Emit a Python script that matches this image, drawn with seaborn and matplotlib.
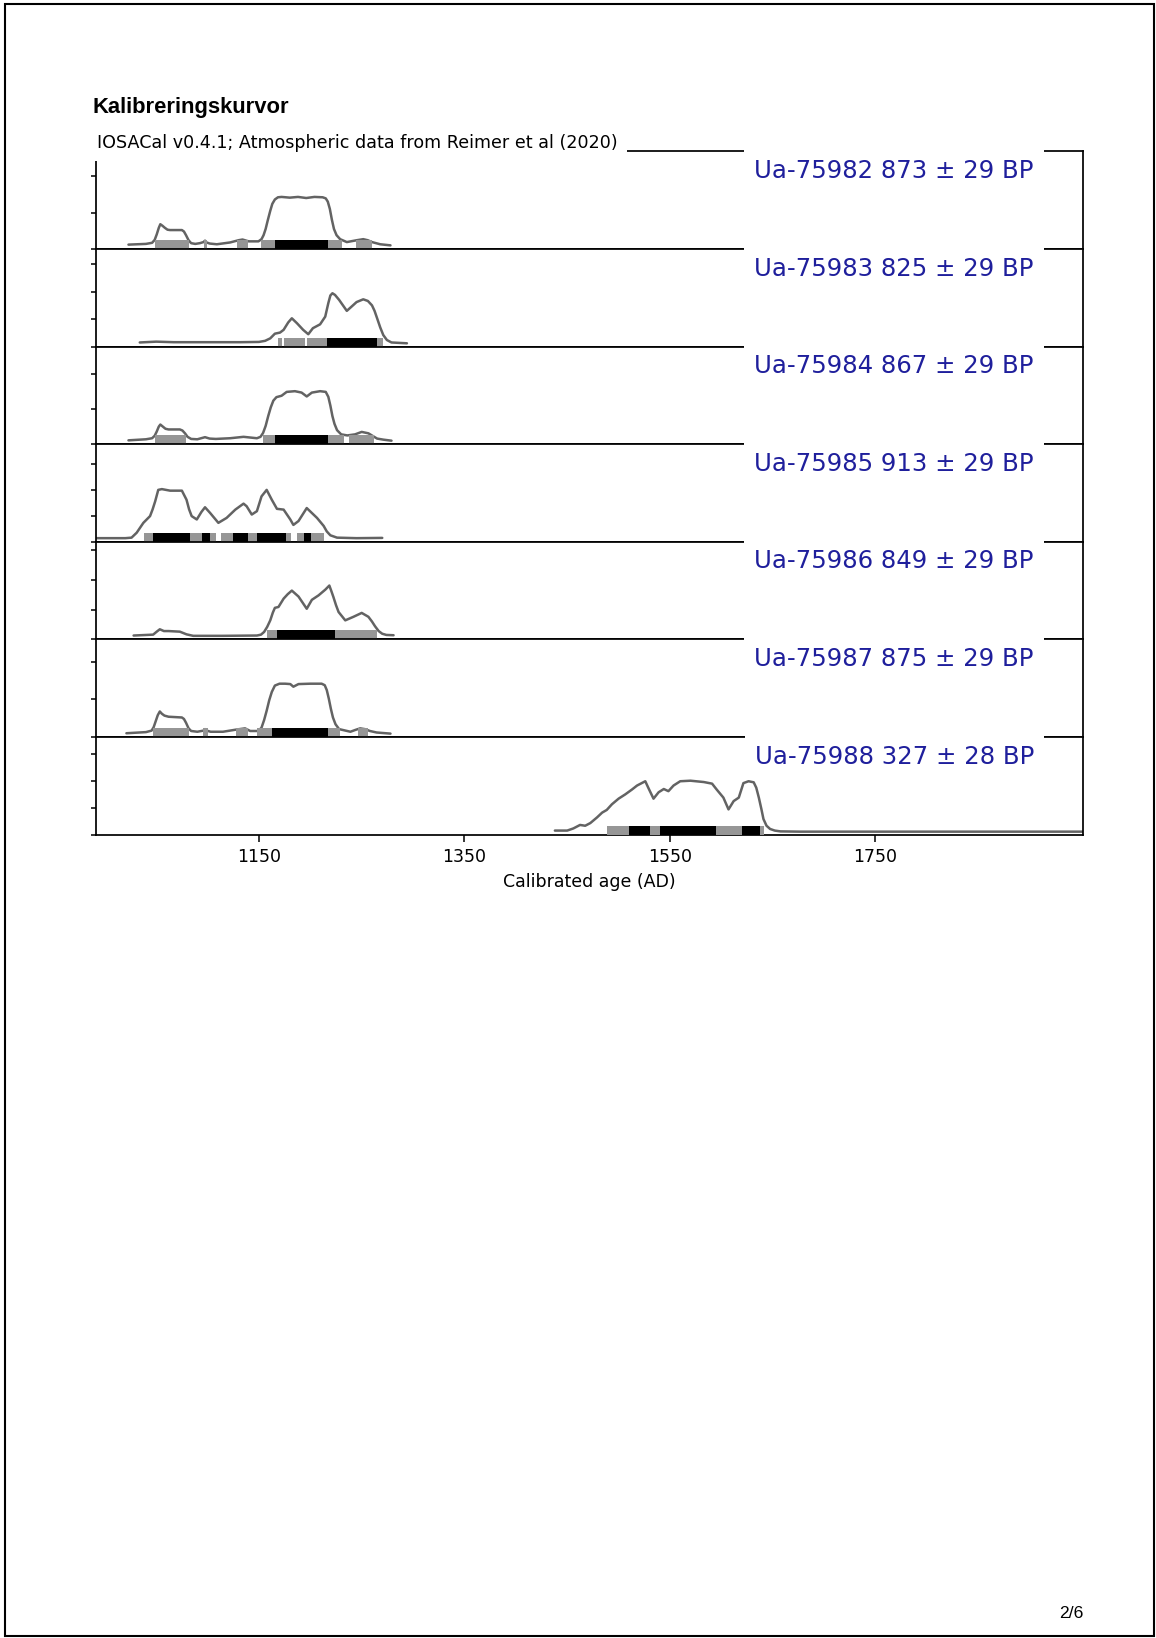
import matplotlib
matplotlib.use("Agg")
import matplotlib.pyplot as plt
from matplotlib.patches import Rectangle
import seaborn as sns

# ---------------- data ----------------
page_title = "Kalibreringskurvor"
page_number = "2/6"
software_note = "IOSACal v0.4.1; Atmospheric data from Reimer et al (2020)"
x_label = "Calibrated age (AD)"
x_ticks = [1150, 1350, 1550, 1750]
x_range = (991.4, 1952)

sample_labels = [
    "Ua-75982 873 ± 29 BP",
    "Ua-75983 825 ± 29 BP",
    "Ua-75984 867 ± 29 BP",
    "Ua-75985 913 ± 29 BP",
    "Ua-75986 849 ± 29 BP",
    "Ua-75987 875 ± 29 BP",
    "Ua-75988 327 ± 28 BP",
]

# calendar years (AD) and probability (percent per year) of each calibrated date
years_1 = [1023, 1040, 1046, 1048.5, 1050.5, 1052.5, 1054, 1056, 1058.5, 1061,
           1063.5, 1070, 1075, 1077, 1079, 1081.5, 1084, 1088, 1092.5, 1096,
           1097.5, 1099, 1102, 1109, 1122, 1130, 1134, 1140, 1149.5, 1152.5,
           1154.5, 1156.5, 1158.5, 1161, 1163, 1165.5, 1168.5, 1172, 1180, 1188,
           1196, 1204, 1212, 1215, 1217, 1219, 1221, 1223, 1225.5, 1229,
           1235.5, 1245, 1251.5, 1256, 1260, 1268, 1278]
prob_1 = [0.12, 0.14, 0.17, 0.25, 0.40, 0.58, 0.68, 0.64, 0.58, 0.53,
          0.52, 0.52, 0.52, 0.48, 0.38, 0.24, 0.16, 0.14, 0.16, 0.19,
          0.23, 0.18, 0.15, 0.13, 0.18, 0.24, 0.26, 0.21, 0.21, 0.27,
          0.38, 0.55, 0.78, 1.05, 1.24, 1.36, 1.42, 1.43, 1.41, 1.43,
          1.40, 1.43, 1.42, 1.39, 1.30, 1.10, 0.80, 0.55, 0.38, 0.27,
          0.19, 0.24, 0.27, 0.24, 0.19, 0.13, 0.10]

years_2 = [1034, 1050, 1067, 1099, 1132, 1150, 1156, 1161, 1165.5, 1170.5,
           1174, 1178.5, 1182, 1187, 1193, 1198, 1202.5, 1209.5, 1214.5, 1217.5,
           1219.5, 1221.5, 1224, 1228, 1235.5, 1240, 1245, 1251.5, 1256, 1260,
           1262.5, 1265, 1268, 1271, 1274.5, 1279, 1294]
prob_2 = [0.15, 0.18, 0.16, 0.16, 0.16, 0.17, 0.21, 0.30, 0.47, 0.51,
          0.61, 0.88, 1.03, 0.85, 0.61, 0.45, 0.67, 0.81, 1.09, 1.58,
          1.86, 1.94, 1.88, 1.70, 1.30, 1.45, 1.62, 1.72, 1.66, 1.50,
          1.30, 1.03, 0.70, 0.42, 0.24, 0.15, 0.12]

years_3 = [1023, 1040, 1046, 1048.5, 1050.5, 1052.5, 1054, 1056.5, 1059, 1062,
           1073, 1075.5, 1078, 1080.5, 1084, 1090, 1097.5, 1102, 1108, 1122,
           1135, 1148, 1151.5, 1154, 1156.5, 1159, 1161.5, 1164, 1167, 1172,
           1177, 1185, 1191.5, 1196.5, 1201.5, 1209.5, 1215, 1217.5, 1219.5, 1221.5,
           1223.5, 1226, 1230, 1236, 1243.5, 1250, 1256.5, 1261, 1265, 1271,
           1279]
prob_3 = [0.11, 0.14, 0.17, 0.24, 0.36, 0.50, 0.56, 0.50, 0.44, 0.42,
          0.42, 0.39, 0.31, 0.21, 0.15, 0.14, 0.20, 0.16, 0.15, 0.17,
          0.21, 0.17, 0.21, 0.32, 0.52, 0.80, 1.05, 1.24, 1.34, 1.38,
          1.49, 1.51, 1.47, 1.36, 1.47, 1.51, 1.49, 1.35, 1.10, 0.80,
          0.58, 0.40, 0.28, 0.25, 0.28, 0.35, 0.31, 0.23, 0.16, 0.13,
          0.10]

years_4 = [992, 1020, 1026, 1031, 1037.5, 1044, 1046.5, 1049, 1052, 1055.5,
           1063.5, 1075, 1079.5, 1082, 1084.5, 1089.5, 1094, 1097.5, 1102.5, 1110.5,
           1118.5, 1127, 1135, 1138, 1143, 1148, 1152.5, 1157.5, 1162.5, 1167.5,
           1174, 1180.5, 1183.5, 1188.5, 1196.5, 1201.5, 1206.5, 1213, 1216, 1219.5,
           1226, 1245, 1270]
prob_4 = [0.14, 0.14, 0.16, 0.35, 0.73, 0.99, 1.25, 1.56, 2.00, 2.03,
          1.97, 1.97, 1.62, 1.25, 0.99, 0.86, 1.15, 1.33, 1.11, 0.73,
          0.92, 1.24, 1.47, 1.37, 1.05, 1.18, 1.75, 2.00, 1.62, 1.27,
          1.24, 0.86, 0.65, 0.80, 1.30, 1.11, 0.92, 0.61, 0.40, 0.25,
          0.16, 0.14, 0.15]

years_5 = [1028, 1047, 1050.5, 1053.5, 1057.5, 1062, 1073, 1079.5, 1086, 1115,
           1148, 1152, 1155, 1158, 1161, 1163.5, 1165.5, 1169, 1174, 1178,
           1182, 1188.5, 1196.5, 1201.5, 1208, 1214.5, 1218.5, 1220.5, 1222.5, 1225,
           1227.5, 1234, 1242, 1250, 1256.5, 1260, 1263, 1266.5, 1270, 1274,
           1281]
prob_5 = [0.13, 0.16, 0.26, 0.34, 0.28, 0.28, 0.26, 0.17, 0.12, 0.12,
          0.13, 0.16, 0.25, 0.42, 0.64, 0.90, 1.06, 1.09, 1.37, 1.52,
          1.64, 1.44, 1.03, 1.33, 1.48, 1.67, 1.81, 1.62, 1.42, 1.15,
          0.92, 0.64, 0.76, 0.89, 0.76, 0.60, 0.44, 0.28, 0.19, 0.15,
          0.14]

years_6 = [1021, 1040, 1045.5, 1047.5, 1049.5, 1051.5, 1053.5, 1055.5, 1058, 1062,
           1075, 1077, 1079, 1081.5, 1084, 1090, 1096, 1097.5, 1099, 1103,
           1115, 1128.5, 1136.5, 1141.5, 1149.5, 1152.5, 1155, 1157.5, 1160, 1162.5,
           1165.5, 1170, 1175.5, 1180.5, 1183.5, 1188.5, 1200, 1211, 1214, 1216,
           1218, 1220, 1222, 1224.5, 1228, 1239, 1244, 1248.5, 1253, 1258,
           1264.5, 1278]
prob_6 = [0.10, 0.13, 0.17, 0.26, 0.42, 0.58, 0.68, 0.62, 0.57, 0.54,
          0.52, 0.48, 0.38, 0.23, 0.16, 0.14, 0.17, 0.21, 0.17, 0.14,
          0.14, 0.20, 0.23, 0.16, 0.16, 0.25, 0.45, 0.70, 0.98, 1.20,
          1.37, 1.42, 1.42, 1.41, 1.34, 1.41, 1.42, 1.42, 1.38, 1.25,
          1.02, 0.75, 0.52, 0.34, 0.21, 0.14, 0.19, 0.23, 0.21, 0.16,
          0.12, 0.09]

years_7 = [1438, 1450, 1456, 1462.5, 1467.5, 1472.5, 1479, 1484, 1488.5, 1493.5,
           1500, 1506.5, 1513, 1518, 1522.5, 1526, 1529, 1534, 1539, 1544,
           1548.5, 1553.5, 1560, 1570, 1583, 1591, 1595.5, 1602, 1607, 1612,
           1617, 1621.5, 1626.5, 1631.5, 1634, 1636.5, 1639, 1641, 1644, 1647.5,
           1652, 1657.5, 1677, 1952]
prob_7 = [0.15, 0.15, 0.23, 0.36, 0.33, 0.43, 0.64, 0.82, 0.92, 1.13,
          1.34, 1.50, 1.68, 1.83, 1.92, 1.99, 1.74, 1.34, 1.58, 1.70,
          1.62, 1.83, 1.99, 2.01, 1.96, 1.90, 1.68, 1.38, 0.94, 1.25,
          1.38, 1.92, 1.99, 1.95, 1.75, 1.38, 0.95, 0.58, 0.33, 0.21,
          0.15, 0.12, 0.11, 0.11]

# 95 % (grey) and 68 % (black) ranges, AD
ranges_95 = [
    [(1049, 1082), (1096.5, 1099), (1128.5, 1139), (1152, 1231), (1244, 1260)],
    [(1169, 1172), (1174.5, 1195), (1197, 1271)],
    [(1049, 1079), (1154, 1233), (1238, 1261.5)],
    [(1038, 1108.5), (1113, 1181.5), (1187, 1213.5)],
    [(1157.5, 1264.5)],
    [(1047, 1081.5), (1095.5, 1100), (1127.5, 1139), (1148, 1229), (1246, 1256.5)],
    [(1488.5, 1642)],
]
ranges_68 = [
    [(1166, 1217)],
    [(1216, 1264.5)],
    [(1166, 1217)],
    [(1046.5, 1082.5), (1094.5, 1102), (1125, 1139), (1148, 1176.5), (1194, 1201)],
    [(1167.5, 1224)],
    [(1162.5, 1217)],
    [(1510, 1531), (1540, 1595), (1620, 1638)],
]

# upper end of each panel's probability axis (percent per year)
y_top = [2.68, 3.55, 2.78, 3.76, 3.28, 2.60, 3.64]

years_all = [years_1, years_2, years_3, years_4, years_5, years_6, years_7]
probs_all = [prob_1, prob_2, prob_3, prob_4, prob_5, prob_6, prob_7]

# ---------------- figure ----------------
sns.set_style("ticks")
plt.rcParams["font.family"] = ["DejaVu Sans"]
plt.rcParams["text.color"] = "black"
plt.rcParams["axes.labelcolor"] = "black"
plt.rcParams["xtick.color"] = "black"
plt.rcParams["ytick.color"] = "black"

W, H = 1156, 1638
fig = plt.figure(figsize=(W / 100, H / 100), dpi=100)
axes = fig.subplots(len(sample_labels), 1, sharex=True, gridspec_kw=dict(hspace=0))
fig.subplots_adjust(left=96 / W, right=1083 / W, top=1 - 151.4 / H, bottom=1 - 834.6 / H)

curve_color = "#636363"
grey_bar = "#969696"
label_color = "#1f1f9c"

for i, ax in enumerate(axes):
    sns.lineplot(x=years_all[i], y=probs_all[i], ax=ax, color=curve_color,
                 linewidth=1.8, zorder=2, solid_joinstyle="round",
                 solid_capstyle="round")
    for a, b in ranges_95[i]:
        ax.axvspan(a, b, ymin=0, ymax=0.093, color=grey_bar, lw=0, zorder=3)
    for a, b in ranges_68[i]:
        ax.axvspan(a, b, ymin=0, ymax=0.093, color="black", lw=0, zorder=4)
    ax.set_xlim(*x_range)
    ax.set_ylim(0, y_top[i])
    ax.set_yticks(list(range(0, int(y_top[i]) + 1)))
    ax.set_yticklabels([])
    ax.set_ylabel("")
    ax.set_xlabel("")
    ax.tick_params(axis="y", direction="out", length=3.6, width=1.1,
                   left=True, right=False, color="black")
    for sp in ax.spines.values():
        sp.set_visible(True)
        sp.set_linewidth(1.25)
        sp.set_color("black")
    ax.annotate(sample_labels[i], xy=(1, 1), xycoords="axes fraction",
                xytext=(-35.3, -19.2), textcoords="offset points",
                ha="right", va="baseline", fontsize=17.6, color=label_color,
                bbox=dict(boxstyle="square,pad=0.41", fc="white", ec="none"),
                zorder=10)
    if i < len(axes) - 1:
        ax.tick_params(axis="x", bottom=False, labelbottom=False)

axes[0].annotate(software_note, xy=(0, 1), xycoords="axes fraction",
                 xytext=(0.6, 2.2), textcoords="offset points",
                 ha="left", va="baseline", fontsize=12.6, color="black",
                 bbox=dict(boxstyle="square,pad=0.52", fc="white", ec="none"),
                 zorder=10)

bottom_ax = axes[-1]
bottom_ax.set_xticks(x_ticks)
bottom_ax.set_xticklabels([str(t) for t in x_ticks])
bottom_ax.tick_params(axis="x", direction="out", length=5, width=1.1,
                      labelsize=12.5, pad=5, bottom=True, labelbottom=True,
                      labelcolor="black")
bottom_ax.set_xlabel(x_label, fontsize=12.5, labelpad=5, color="black")

fig.text(92 / W, 1 - 113 / H, page_title, fontsize=15.8, fontweight="bold",
         color="black", family=["Liberation Sans", "DejaVu Sans"],
         ha="left", va="baseline")
fig.text(1083 / W, 1 - 1618 / H, page_number, fontsize=12.6, color="black",
         family=["Liberation Sans", "DejaVu Sans"], ha="right", va="baseline")

fig.patches.append(Rectangle((5 / W, 2.5 / H), (1154 - 5) / W, (1635.5 - 4) / H,
                             transform=fig.transFigure, fill=False,
                             ec="black", lw=1.5))

fig.savefig("out.png", dpi=100, facecolor="white")
